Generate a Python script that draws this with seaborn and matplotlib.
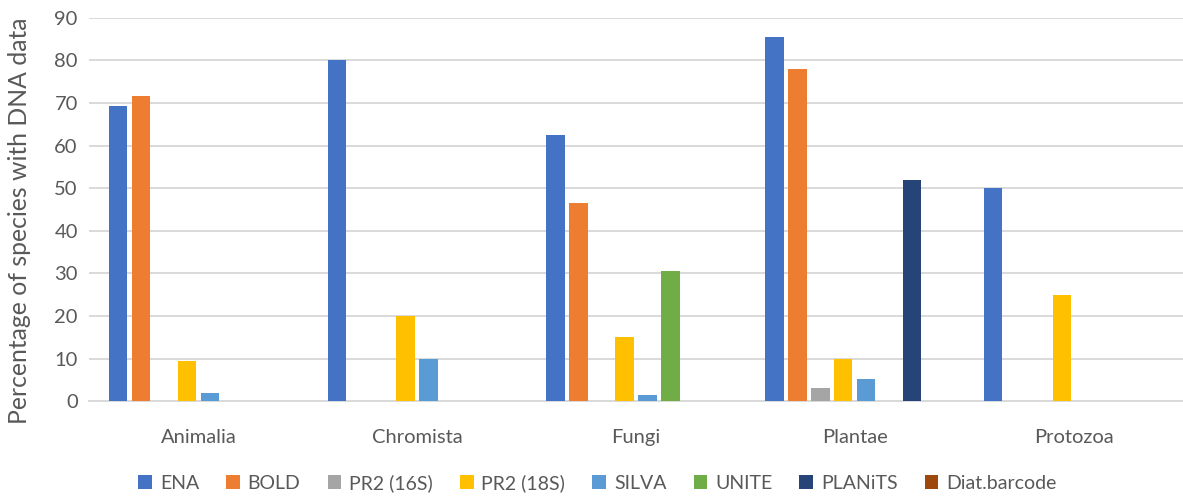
import numpy as np
import pandas as pd
import matplotlib
matplotlib.use("Agg")
import matplotlib.pyplot as plt
import seaborn as sns

# --------------------------
# Data
# --------------------------

kingdoms = ["Animalia", "Chromista", "Fungi", "Plantae", "Protozoa"]
databases = ["ENA", "BOLD", "PR2 (16S)", "PR2 (18S)", "SILVA", "UNITE", "PLANiTS", "Diat.barcode"]

ena = [69.3, 80.0, 62.5, 85.5, 50.0]
bold = [71.7, 0, 46.5, 78.0, 0]
pr2_16s = [0, 0, 0, 3.1, 0]
pr2_18s = [9.4, 20.0, 15.0, 10.0, 25.0]
silva = [2.0, 10.0, 1.5, 5.3, 0]
unite = [0, 0, 30.5, 0, 0]
planits = [0, 0, 0, 52.0, 0]
diat_barcode = [0, 0, 0, 0, 0]

colors = ["#4472C4", "#ED7D31", "#A5A5A5", "#FFC000",
          "#5B9BD5", "#70AD47", "#264478", "#9E480E"]

series = [ena, bold, pr2_16s, pr2_18s, silva, unite, planits, diat_barcode]
df = pd.DataFrame({
    "Kingdom": np.tile(kingdoms, len(databases)),
    "Database": np.repeat(databases, len(kingdoms)),
    "Value": np.concatenate(series),
})

# --------------------------
# Plot
# --------------------------

sns.set_style("white")
plt.rcParams["font.family"] = ["Lato", "DejaVu Sans"]
text_color = "#595959"
grid_color = "#D9D9D9"

fig = plt.figure(figsize=(11.83, 4.97), dpi=100)
ax = fig.add_axes([0.0752, 0.193, 0.9248, 0.771])

sns.barplot(
    data=df,
    x="Kingdom",
    y="Value",
    hue="Database",
    hue_order=databases,
    order=kingdoms,
    palette=colors,
    saturation=1,
    width=0.84,
    gap=0.2,
    linewidth=0,
    errorbar=None,
    legend=True,
    ax=ax,
    zorder=3,
)

ax.set_xlim(-0.5, 4.5)
ax.set_ylim(0, 90)
ax.set_yticks(np.arange(0, 91, 10))
ax.yaxis.grid(True, color=grid_color, linewidth=1.4, zorder=0)
ax.set_axisbelow(True)

for side in ["top", "right", "left"]:
    ax.spines[side].set_visible(False)
ax.spines["bottom"].set_color(grid_color)
ax.spines["bottom"].set_linewidth(1.4)

ax.tick_params(axis="y", length=0, labelsize=14.5, labelcolor=text_color, pad=8)
ax.tick_params(axis="x", which="major", length=0, labelsize=14.5,
               labelcolor=text_color, pad=20)
ax.set_xticks(np.arange(-0.5, 4.6, 1), minor=True)
ax.tick_params(axis="x", which="minor", direction="inout", length=11,
               width=1.4, color=grid_color)

ax.set_xlabel("")
ax.set_ylabel("Percentage of species with DNA data", fontsize=17.8,
              color=text_color)
ax.yaxis.set_label_coords(-0.053, 0.47)

handles, labels = ax.get_legend_handles_labels()
ax.get_legend().remove()
fig.legend(
    handles, labels,
    loc="lower center",
    bbox_to_anchor=(0.505, -0.025),
    ncol=8,
    frameon=False,
    fontsize=14,
    labelcolor=text_color,
    handlelength=0.7,
    handleheight=0.7,
    handletextpad=0.4,
    columnspacing=1.4,
)

plt.savefig("out.png", dpi=100)
